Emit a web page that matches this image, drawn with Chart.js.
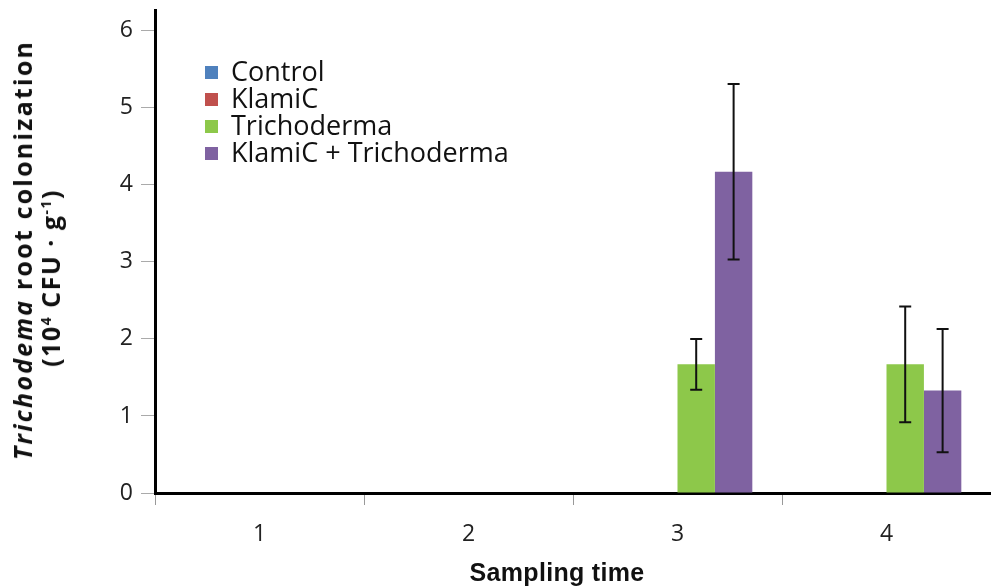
<!DOCTYPE html>
<html>
<head>
<meta charset="utf-8">
<script src="https://cdn.jsdelivr.net/npm/chart.js@4/dist/chart.umd.min.js"></script>
<style>
  body{margin:0;background:#fff;}
  #wrap{position:relative;width:991px;height:588px;overflow:hidden;}
  #legend{position:absolute;left:205px;top:57px;font-family:"Open Sans",sans-serif;font-size:27px;color:#111;line-height:27px;}
  #legend .sw{display:inline-block;width:13px;height:13px;margin-right:13px;vertical-align:2px;}
  #ytitle{position:absolute;left:36px;top:250px;transform:translate(-50%,-50%) rotate(-90deg);
    font-family:"Open Sans",sans-serif;font-weight:bold;font-size:25px;letter-spacing:2.2px;color:#111;text-align:center;line-height:28px;white-space:nowrap;}
  #ytitle .l2{display:block;padding-right:56px;letter-spacing:1.5px;}
  #ytitle sup{font-size:14px;line-height:0;}
  #xtitle{position:absolute;left:557px;top:572px;transform:translate(-50%,-50%);
    font-family:"Liberation Sans",Arial,sans-serif;font-weight:bold;font-size:25px;letter-spacing:0.3px;color:#111;white-space:nowrap;}
</style>
</head>
<body>
<div id="wrap">
<canvas id="myChart" width="991" height="588"></canvas>
<div id="legend"></div>
<div id="ytitle"><i>Trichodema</i> root colonization<span class="l2">(10<sup>4</sup> CFU · g<sup>-1</sup>)</span></div>
<div id="xtitle">Sampling time</div>
</div>
<script>
// data
let categories=["1","2","3","4"];
let seriesNames=["Control","KlamiC","Trichoderma","KlamiC + Trichoderma"];
let controlVals=[0,0,0,0];
let klamicVals=[0,0,0,0];
let trichoVals=[0,0,1.67,1.67];
let comboVals=[0,0,4.17,1.33];
let trichoErr=[0,0,0.33,0.75];
let comboErr=[0,0,1.14,0.8];
let yTicks=[0,1,2,3,4,5,6];
let colors=["#4F81BD","#C0504D","#8DC84A","#7F62A1"];

// legend
let legend=document.querySelector('#legend');
seriesNames.forEach((n,i)=>{
    let row=document.createElement('div');
    row.innerHTML='<span class="sw" style="background:'+colors[i]+'"></span>'+n;
    legend.appendChild(row);
})

// error bars
const errorBars={
  id:'errorBars',
  afterDatasetsDraw(chart){
    const ctx=chart.ctx;
    const y=chart.scales.y;
    chart.data.datasets.forEach((ds,di)=>{
      if(!ds.errors) return;
      const meta=chart.getDatasetMeta(di);
      meta.data.forEach((bar,i)=>{
        const e=ds.errors[i];
        if(!e) return;
        const v=ds.data[i];
        const top=y.getPixelForValue(v+e);
        const bot=y.getPixelForValue(v-e);
        ctx.save();
        ctx.strokeStyle='#111';
        ctx.lineWidth=2;
        ctx.beginPath();
        ctx.moveTo(bar.x,top);ctx.lineTo(bar.x,bot);
        ctx.moveTo(bar.x-6,top);ctx.lineTo(bar.x+6,top);
        ctx.moveTo(bar.x-6,bot);ctx.lineTo(bar.x+6,bot);
        ctx.stroke();
        ctx.restore();
      })
    })
  }
};

let allVals=[controlVals,klamicVals,trichoVals,comboVals];
let allErr=[null,null,trichoErr,comboErr];

new Chart("myChart",{
  type:"bar",
  data:{
    labels:categories,
    datasets:seriesNames.map((n,i)=>({
      label:n,
      data:allVals[i],
      errors:allErr[i],
      backgroundColor:colors[i],
      borderWidth:0,
      barPercentage:1,
      categoryPercentage:0.716
    }))
  },
  options:{
    responsive:false,
    animation:false,
    layout:{padding:{top:10,left:0,right:0,bottom:0}},
    plugins:{legend:{display:false},tooltip:{enabled:false}},
    scales:{
      x:{
        grid:{drawOnChartArea:false,tickLength:12,color:'#999',offset:true},
        border:{color:'#000',width:3},
        ticks:{color:'#222',font:{family:'Open Sans',size:23},padding:16},
        afterFit(scale){scale.height=95;scale.paddingLeft=0;scale.paddingRight=0;}
      },
      y:{
        min:0,max:6.27,
        afterBuildTicks(scale){scale.ticks=yTicks.map(v=>({value:v}));},
        grid:{drawOnChartArea:false,tickLength:14,color:'#aaa'},
        border:{color:'#000',width:3},
        ticks:{color:'#222',font:{family:'Open Sans',size:23},padding:8},
        afterFit(scale){scale.width=155;scale.paddingTop=0;scale.paddingBottom=0;}
      }
    }
  },
  plugins:[errorBars]
});
</script>
</body>
</html>
